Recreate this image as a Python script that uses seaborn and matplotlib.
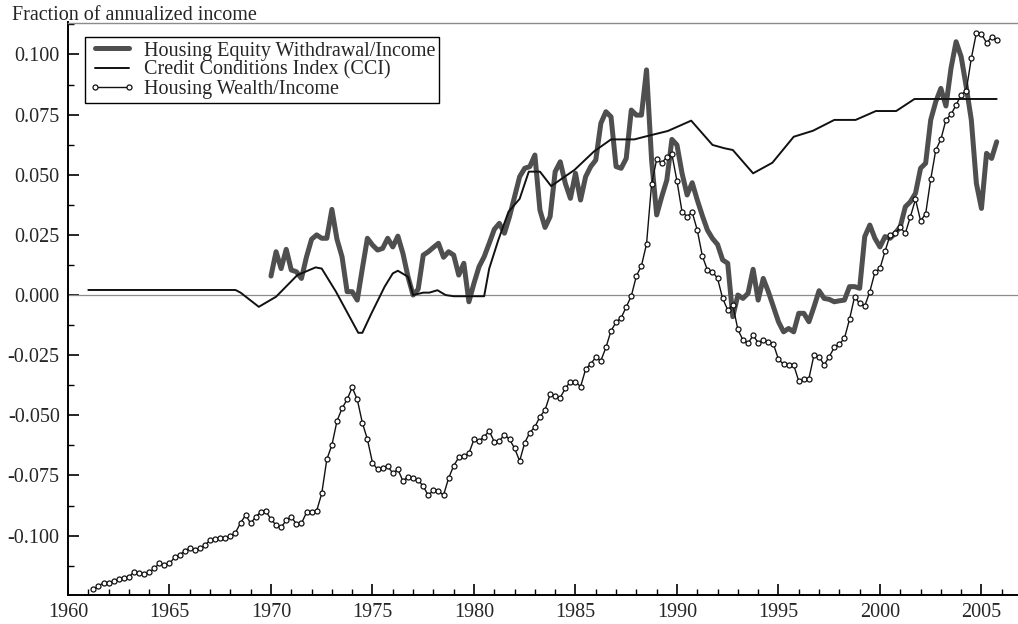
import numpy as np
import pandas as pd
import matplotlib
matplotlib.use("Agg")
import matplotlib.pyplot as plt
import seaborn as sns
from matplotlib.ticker import MultipleLocator

# Housing equity withdrawal / income, quarterly from 1970Q1
hew_start = 1970.0
hew = [0.0079, 0.018, 0.011, 0.019, 0.0104, 0.0097, 0.0069, 0.0159,
       0.0232, 0.025, 0.0236, 0.0236, 0.0356, 0.0232, 0.0159, 0.0014,
       0.0014, -0.0021, 0.011, 0.0236, 0.0208, 0.0187, 0.0194, 0.0236,
       0.020, 0.0245, 0.0173, 0.0076, 0.0, 0.0024, 0.0166, 0.018,
       0.0198, 0.0215, 0.0157, 0.018, 0.0166, 0.0083, 0.0132, -0.0028,
       0.0049, 0.0118, 0.0159, 0.0215, 0.0273, 0.0298, 0.0257, 0.0326,
       0.0409, 0.0492, 0.0527, 0.0534, 0.0582, 0.0353, 0.0281, 0.0326,
       0.0513, 0.0554, 0.0464, 0.0402, 0.0506, 0.0395, 0.0492, 0.0534,
       0.0561, 0.0714, 0.0762, 0.0741, 0.0534, 0.0527, 0.0568, 0.0769,
       0.0748, 0.0748, 0.0936, 0.0561, 0.0333, 0.0409, 0.0478, 0.0647,
       0.0624, 0.0506, 0.0416, 0.0467, 0.0395, 0.033, 0.027, 0.0235,
       0.021, 0.0146, 0.0132, -0.009, 0.0, -0.0014, 0.0007, 0.0107,
       -0.0021, 0.0069, 0.0014, -0.0049, -0.0111, -0.0153, -0.0139, -0.0153,
       -0.0076, -0.0076, -0.0111, -0.0049, 0.0018, -0.0014, -0.0018, -0.0028,
       -0.0024, -0.0021, 0.0035, 0.0035, 0.0028, 0.0243, 0.0291, 0.0236,
       0.020, 0.0243, 0.0236, 0.0257, 0.0284, 0.0367, 0.0388, 0.0423,
       0.0527, 0.0548, 0.0728, 0.0804, 0.0859, 0.0786, 0.0943, 0.1053,
       0.0991, 0.0866, 0.0728, 0.0464, 0.036, 0.0589, 0.0568, 0.0637]

# Credit conditions index (breakpoints)
cci_year = [1961.0, 1968.25, 1968.5, 1969.4, 1970.25, 1971.3, 1972.2, 1972.5,
            1973.2, 1974.3, 1974.5, 1974.95, 1975.6, 1976.0, 1976.25, 1976.75,
            1977.0, 1977.5, 1977.8, 1978.2, 1978.6, 1979.0, 1980.5, 1980.75,
            1981.2, 1981.7, 1982.25, 1982.7, 1983.25, 1983.8, 1984.95, 1985.9,
            1986.75, 1987.9, 1988.4, 1989.55, 1990.7, 1991.75, 1992.35, 1992.75,
            1993.75, 1994.7, 1995.75, 1996.7, 1997.75, 1998.8, 1999.8, 2000.8,
            2001.7, 2005.75]
cci = [0.0021, 0.0021, 0.001, -0.0049, -0.0007, 0.0083, 0.0115, 0.011,
       0.0014, -0.0157, -0.0157, -0.0076, 0.0035, 0.009, 0.0101, 0.0076,
       0.0, 0.001, 0.001, 0.002, 0.0, -0.0005, -0.0005, 0.011,
       0.0229, 0.0346, 0.040, 0.0513, 0.0513, 0.0453, 0.052, 0.0596,
       0.0647, 0.0647, 0.0658, 0.0682, 0.0725, 0.0624, 0.061, 0.0603,
       0.0506, 0.055, 0.0658, 0.0683, 0.0728, 0.0728, 0.0765, 0.0765,
       0.0815, 0.0815]

# Housing wealth / income (rescaled), quarterly from 1961Q2
hwi_start = 1961.25
hwi = [-0.1224, -0.121, -0.1196, -0.1199, -0.1188, -0.1182, -0.1178, -0.1174,
       -0.115, -0.1157, -0.116, -0.1153, -0.1136, -0.1116, -0.1123, -0.1116,
       -0.1091, -0.1081, -0.1064, -0.1051, -0.106, -0.1051, -0.104, -0.1019,
       -0.1016, -0.1012, -0.1012, -0.1002, -0.0988, -0.0947, -0.0915, -0.0949,
       -0.0922, -0.0901, -0.0898, -0.0933, -0.0956, -0.0966, -0.0936, -0.0922,
       -0.0952, -0.0949, -0.0904, -0.0902, -0.0897, -0.0825, -0.0683, -0.0624,
       -0.0524, -0.0471, -0.0434, -0.0384, -0.0434, -0.0531, -0.06, -0.0697,
       -0.0725, -0.0717, -0.0711, -0.0741, -0.0725, -0.0773, -0.0755, -0.0762,
       -0.0769, -0.0795, -0.0833, -0.0811, -0.0815, -0.0832, -0.0761, -0.071,
       -0.0675, -0.067, -0.0658, -0.06, -0.0606, -0.0589, -0.0565, -0.061,
       -0.0607, -0.058, -0.06, -0.0637, -0.069, -0.0614, -0.0572, -0.0548,
       -0.0506, -0.0478, -0.0413, -0.0419, -0.0426, -0.0388, -0.036, -0.036,
       -0.0381, -0.0309, -0.0286, -0.0259, -0.0273, -0.0218, -0.0149, -0.0113,
       -0.0095, -0.0049, -0.0004, 0.0079, 0.0122, 0.0212, 0.0462, 0.0564,
       0.0548, 0.0575, 0.0585, 0.0474, 0.0346, 0.0326, 0.0344, 0.027,
       0.0162, 0.0104, 0.0097, 0.0069, -0.0014, -0.0062, -0.0042, -0.0143,
       -0.0187, -0.0201, -0.0168, -0.0198, -0.0187, -0.0194, -0.0204, -0.0267,
       -0.0288, -0.0291, -0.0291, -0.0358, -0.0351, -0.0347, -0.0249, -0.0256,
       -0.0291, -0.0256, -0.0218, -0.0204, -0.018, -0.0101, -0.0007, -0.0035,
       -0.0046, 0.0014, 0.0094, 0.0111, 0.0182, 0.0249, 0.0257, 0.0281,
       0.0257, 0.0326, 0.0398, 0.0309, 0.0337, 0.0481, 0.0603, 0.0647,
       0.0728, 0.0751, 0.079, 0.0832, 0.085, 0.0984, 0.109, 0.1085,
       0.1049, 0.1071, 0.106]

hew_df = pd.DataFrame({"year": hew_start + 0.25 * np.arange(len(hew)), "value": hew})
cci_df = pd.DataFrame({"year": cci_year, "value": cci})
hwi_df = pd.DataFrame({"year": hwi_start + 0.25 * np.arange(len(hwi)), "value": hwi})

sns.set_style("ticks")
plt.rcParams["font.family"] = ["Liberation Serif", "DejaVu Serif"]
plt.rcParams["font.size"] = 14.5

fig = plt.figure(figsize=(10.18, 6.24), dpi=100)
ax = fig.add_axes([68 / 1018, 29 / 624, 950 / 1018, 572.5 / 624])

ax.axhline(0, color="#8c8c8c", lw=0.9, zorder=1)
sns.lineplot(data=hew_df, x="year", y="value", ax=ax, color="#4f4f4f", lw=3.6,
             label="Housing Equity Withdrawal/Income", zorder=3)
sns.lineplot(data=cci_df, x="year", y="value", ax=ax, color="#111111", lw=1.4,
             label="Credit Conditions Index (CCI)", zorder=4)
sns.lineplot(data=hwi_df, x="year", y="value", ax=ax, color="#111111", lw=1.0,
             marker="o", markersize=3.6, markerfacecolor="white",
             markeredgecolor="#111111", markeredgewidth=0.9,
             label="Housing Wealth/Income", zorder=5)

ax.set_xlim(1960, 2006.8)
ax.set_ylim(-0.1247, 0.1133)
ax.xaxis.set_major_locator(MultipleLocator(5))
ax.xaxis.set_minor_locator(MultipleLocator(1))
ax.yaxis.set_major_locator(MultipleLocator(0.025))
ax.yaxis.set_minor_locator(MultipleLocator(0.0125))
ax.yaxis.set_major_formatter(plt.FuncFormatter(lambda v, p: f"{v:.3f}"))
ax.tick_params(which="major", direction="in", length=8, width=1.2, color="black",
               labelsize=14.5, pad=6)
ax.tick_params(which="minor", direction="in", length=4, width=1.0, color="black")
ax.set_xlabel("")
ax.set_ylabel("")

for s in ["left", "bottom"]:
    ax.spines[s].set_color("black")
    ax.spines[s].set_linewidth(1.4)
ax.spines["top"].set_color("#8c8c8c")
ax.spines["top"].set_linewidth(1.0)
ax.spines["right"].set_visible(False)

leg = ax.legend(loc="upper left", bbox_to_anchor=(0.018, 0.974), frameon=True,
                fancybox=False, edgecolor="black", framealpha=1,
                handlelength=2.3, handletextpad=0.4, labelspacing=0.0,
                borderpad=0.2, borderaxespad=0, fontsize=14.5, numpoints=2)
leg.get_frame().set_linewidth(1.0)

fig.text(12 / 1018, 1 - 15 / 624, "Fraction of annualized income",
         ha="left", va="center", fontsize=14.5)

fig.savefig("out.png", dpi=100)
